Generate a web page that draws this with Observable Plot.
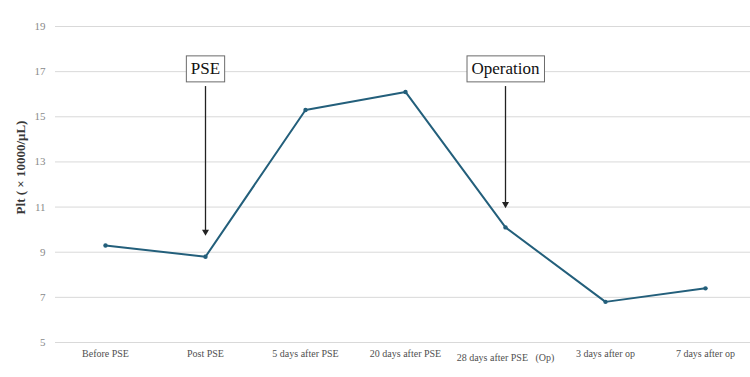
<!DOCTYPE html>
<html>
<head>
<meta charset="utf-8">
<script src="https://cdn.jsdelivr.net/npm/d3@7"></script>
<script src="https://cdn.jsdelivr.net/npm/@observablehq/plot@0.6"></script>
<style>
  html, body { margin: 0; padding: 0; background: #fff; }
  #chart { width: 750px; height: 377px; }
  #chart svg text { font-family: "Liberation Serif", "DejaVu Serif", serif; }
</style>
</head>
<body>
<div id="chart"></div>
<script>
// Platelet count across the course of partial splenic embolization (PSE) and surgery
const stages = [
  "Before PSE",
  "Post PSE",
  "5 days after PSE",
  "20 days after PSE",
  "28 days after PSE\u00a0\u00a0\u00a0(Op)",
  "3 days after op",
  "7 days after op"
];
const plt = [9.3, 8.8, 15.3, 16.1, 10.1, 6.8, 7.4];
const yTicks = [5, 7, 9, 11, 13, 15, 17, 19];

// Event callouts: label, stage it points at, label level, arrow tail and head levels
const calloutLabels = ["PSE", "Operation"];
const calloutStages = [stages[1], stages[4]];
const calloutLevel = [17.12, 17.12];
const arrowTail = [16.25, 16.25];
const arrowHead = [9.8, 11.02];

const rows = stages.map((s, i) => ({stage: s, value: plt[i]}));
const callouts = calloutLabels.map((t, i) => ({
  text: t, stage: calloutStages[i], level: calloutLevel[i], tail: arrowTail[i], head: arrowHead[i]
}));

const serif = "Liberation Serif, DejaVu Serif, serif";
const lineColor = "#235f7b";

const chart = Plot.plot({
  width: 750,
  height: 377,
  marginLeft: 55,
  marginRight: 0,
  marginTop: 26,
  marginBottom: 35,
  style: {fontFamily: serif, background: "#fff"},
  x: {type: "point", domain: stages, range: [105, 705], padding: 0},
  y: {domain: [5, 19], ticks: yTicks},
  marks: [
    Plot.ruleY(yTicks, {stroke: "#d9d9d9", strokeWidth: 1}),
    Plot.axisY({ticks: yTicks, tickSize: 0, tickPadding: 10, fontSize: 11, fill: "#8a8a8a", label: null}),
    Plot.axisX({ticks: stages.filter((_, i) => i !== 4), tickSize: 0, tickPadding: 7, fontSize: 10, fill: "#505050", label: null}),
    Plot.axisX({ticks: [stages[4]], tickSize: 0, tickPadding: 11, fontSize: 10, fill: "#505050", label: null}),
    Plot.text(["Plt ( \u00d7 10000/\u03bcL)"], {
      frameAnchor: "left", dx: -35, dy: -17, rotate: -90, textAnchor: "middle",
      fontWeight: "bold", fontSize: 13, fill: "#383838"
    }),
    Plot.line(rows, {x: "stage", y: "value", stroke: lineColor, strokeWidth: 2}),
    Plot.dot(rows, {x: "stage", y: "value", r: 2.2, fill: lineColor}),
    // Arrow shafts with small filled heads
    Plot.ruleX(callouts, {x: "stage", y1: "tail", y2: "head", stroke: "#222", strokeWidth: 1.3, dy: -2}),
    Plot.dot(callouts, {x: "stage", y: "head", symbol: "triangle", rotate: 180, r: 2.6, fill: "#222", dy: -2.5}),
    Plot.text(callouts, {
      x: "stage", y: "level", text: "text", fontSize: 17, fill: "#111",
      className: "callout"
    })
  ]
});

document.getElementById("chart").appendChild(chart);

// Framed boxes behind the callout labels, sized to each label
d3.select(chart).selectAll("g.callout text").each(function () {
  const b = this.getBBox();
  const padX = 4.5, padY = 3.5;
  const t = this.getAttribute("transform");
  d3.select(this.parentNode).insert("rect", () => this)
    .attr("transform", t)
    .attr("x", b.x - padX)
    .attr("y", b.y - padY)
    .attr("width", b.width + 2 * padX)
    .attr("height", b.height + 2 * padY)
    .attr("fill", "#fff")
    .attr("stroke", "#6b6b6b")
    .attr("stroke-width", 1);
});
</script>
</body>
</html>
